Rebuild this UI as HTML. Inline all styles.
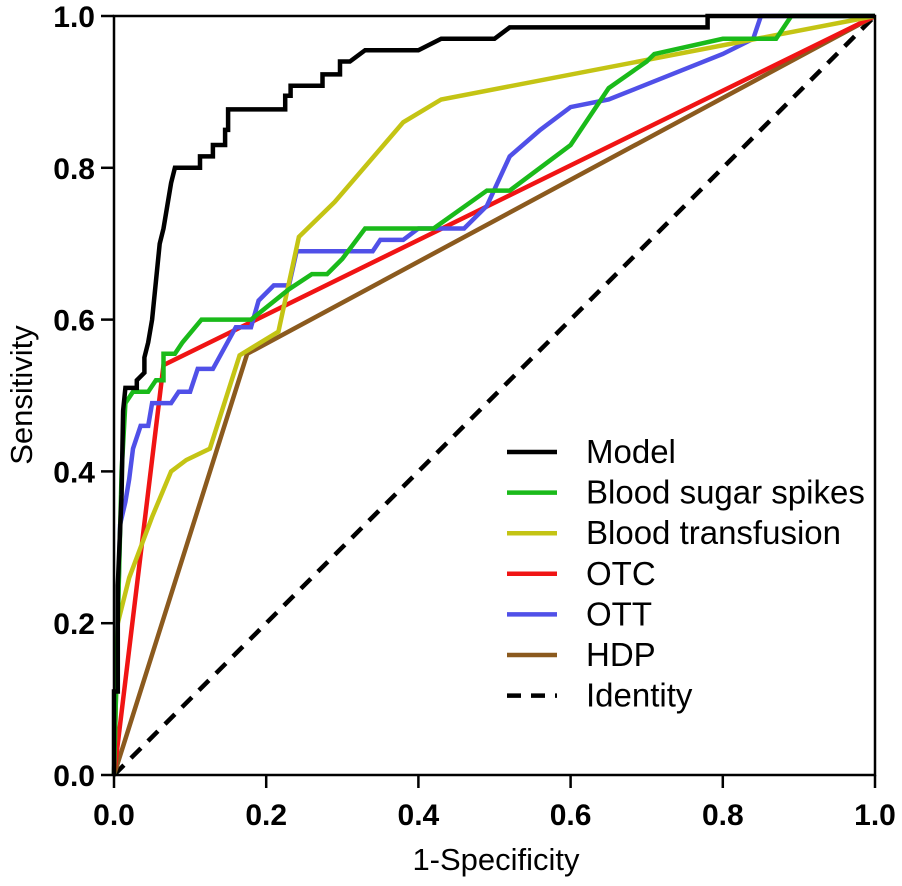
<!DOCTYPE html>
<html><head><meta charset="utf-8"><style>
body{margin:0;background:#fff}
svg{display:block;font-family:"Liberation Sans",Arial,sans-serif}
</style></head><body>
<svg id="chart" width="902" height="886" viewBox="0 0 902 886" xmlns="http://www.w3.org/2000/svg">
<g id="plot"></g>
</svg>
<script>
const xTicks = [0, 0.2, 0.4, 0.6, 0.8, 1.0];
const yTicks = [0, 0.2, 0.4, 0.6, 0.8, 1.0];
const tickLabels = ["0.0", "0.2", "0.4", "0.6", "0.8", "1.0"];
const seriesNames = ["Model", "Blood sugar spikes", "Blood transfusion", "OTC", "OTT", "HDP", "Identity"];
const seriesColors = ["#000000", "#1aba1a", "#c4c414", "#f01414", "#5050e8", "#8b5a1e", "#000000"];
const modelX = [0,0,0.005,0.005,0.01,0.012,0.015,0.03,0.03,0.04,0.04,0.045,0.05,0.055,0.06,0.065,0.07,0.075,0.08,0.113,0.113,0.13,0.13,0.146,0.146,0.15,0.15,0.225,0.225,0.232,0.232,0.274,0.274,0.297,0.297,0.31,0.33,0.4,0.43,0.5,0.52,0.78,0.78,1];
const modelY = [0,0.11,0.11,0.25,0.37,0.48,0.51,0.51,0.52,0.53,0.55,0.57,0.6,0.65,0.7,0.72,0.75,0.78,0.8,0.8,0.815,0.815,0.83,0.83,0.85,0.85,0.877,0.877,0.895,0.895,0.908,0.908,0.923,0.923,0.94,0.94,0.955,0.955,0.97,0.97,0.985,0.985,1,1];
const sugarX = [0,0.005,0.01,0.015,0.025,0.045,0.055,0.065,0.065,0.08,0.09,0.115,0.18,0.23,0.26,0.28,0.3,0.33,0.42,0.49,0.52,0.6,0.65,0.7,0.71,0.8,0.87,0.89,1];
const sugarY = [0,0.2,0.4,0.49,0.505,0.505,0.52,0.52,0.555,0.555,0.57,0.6,0.6,0.64,0.66,0.66,0.68,0.72,0.72,0.77,0.77,0.83,0.905,0.94,0.95,0.97,0.97,1,1];
const transX = [0,0.005,0.02,0.05,0.075,0.095,0.126,0.165,0.216,0.243,0.29,0.38,0.43,1];
const transY = [0,0.2,0.26,0.34,0.4,0.415,0.43,0.553,0.584,0.709,0.755,0.86,0.89,1];
const otcX = [0,0.065,1];
const otcY = [0,0.54,1];
const ottX = [0,0.008,0.015,0.02,0.025,0.035,0.045,0.05,0.075,0.085,0.1,0.11,0.13,0.16,0.18,0.19,0.2,0.21,0.23,0.24,0.34,0.35,0.38,0.4,0.46,0.49,0.52,0.56,0.6,0.65,0.8,0.84,0.85,1];
const ottY = [0,0.33,0.36,0.39,0.43,0.46,0.46,0.49,0.49,0.505,0.505,0.535,0.535,0.59,0.59,0.625,0.635,0.645,0.645,0.69,0.69,0.705,0.705,0.72,0.72,0.75,0.815,0.85,0.88,0.89,0.95,0.97,1,1];
const hdpX = [0,0.175,1];
const hdpY = [0,0.555,1];
const idX = [0,1];
const idY = [0,1];

const X0=114, X1=875, Y0=775, Y1=16;
const sx = v => X0 + v*(X1-X0);
const sy = v => Y0 - v*(Y0-Y1);
const NS="http://www.w3.org/2000/svg";
const g=document.getElementById('plot');
function mk(tag, attrs){const e=document.createElementNS(NS,tag);for(const k in attrs)e.setAttribute(k,attrs[k]);g.appendChild(e);return e;}

const allX=[modelX,sugarX,transX,otcX,ottX,hdpX,idX];
const allY=[modelY,sugarY,transY,otcY,ottY,hdpY,idY];
const slugs=["model","blood-sugar-spikes","blood-transfusion","otc","ott","hdp","identity"];
const order=[6,5,3,4,2,1,0];
order.forEach(i=>{
  const pts=allX[i].map((x,j)=>sx(x).toFixed(1)+","+sy(allY[i][j]).toFixed(1)).join(" ");
  const p=mk('polyline',{points:pts,fill:'none',stroke:seriesColors[i],'stroke-width':4.5,'stroke-linejoin':'miter'});
  if(i===6){p.setAttribute('stroke-dasharray','14,10');}
  
  
});

const fr=mk('rect',{x:X0,y:Y1,width:X1-X0,height:Y0-Y1,fill:'none',stroke:'#000','stroke-width':2.5});



xTicks.forEach((t,i)=>{
  const l=mk('line',{x1:sx(t),x2:sx(t),y1:Y0,y2:Y0+13,stroke:'#000','stroke-width':2.5});
  
  
  const tx=mk('text',{x:sx(t),y:Y0+50,'text-anchor':'middle','font-size':30,'font-weight':'bold'});
  tx.textContent=tickLabels[i];
  
  
});
yTicks.forEach((t,i)=>{
  const l=mk('line',{x1:X0-13,x2:X0,y1:sy(t),y2:sy(t),stroke:'#000','stroke-width':2.5});
  
  
  const tx=mk('text',{x:X0-19,y:sy(t)+11,'text-anchor':'end','font-size':30,'font-weight':'bold'});
  tx.textContent=tickLabels[i];
  
  
});
const xt=mk('text',{x:496,y:870,'text-anchor':'middle','font-size':31});
xt.textContent="1-Specificity";


const yt=mk('text',{x:0,y:0,'text-anchor':'middle','font-size':31,transform:'translate(32,395) rotate(-90)'});
yt.textContent="Sensitivity";



seriesNames.forEach((n,i)=>{
  const y=452+i*40.6;
  const l=mk('line',{x1:507,x2:557,y1:y,y2:y,stroke:seriesColors[i],'stroke-width':4.5});
  if(i===6)l.setAttribute('stroke-dasharray','14,10');
  
  
  const t=mk('text',{x:586,y:y+11,'font-size':33});
  t.textContent=n;
  
  
});
</script>
</body></html>
